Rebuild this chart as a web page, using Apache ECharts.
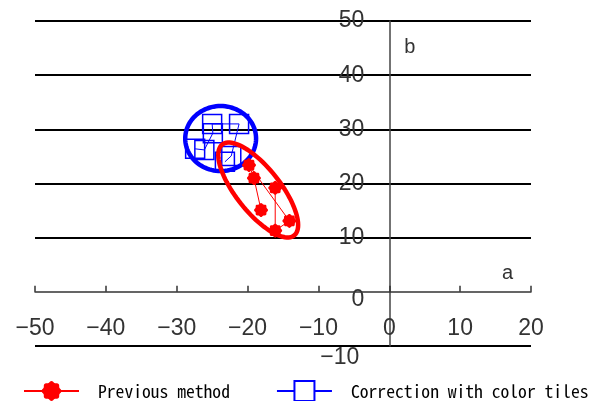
<!DOCTYPE html>
<html><head><meta charset="utf-8">
<script src="https://cdn.jsdelivr.net/npm/echarts@6/dist/echarts.min.js"></script>
<style>html,body{margin:0;padding:0;background:#fff}#c{width:591px;height:401px}</style>
</head><body><div id="c"></div>
<script>
// ---- data ----
const seriesNames = ['Previous method', 'Correction with color tiles'];
const xTicks = [-50, -40, -30, -20, -10, 0, 10, 20];
const yTicks = [-10, 0, 10, 20, 30, 40, 50];
const prevA = [-18.1, -19.1, -19.8, -14.1, -16.1, -16.1];
const prevB = [15.1, 21.0, 23.4, 13.1, 11.3, 19.2];
const tileA = [-27.4, -26.1, -24.9, -25.0, -21.2, -22.3, -23.2];
const tileB = [26.4, 26.2, 29.3, 31.0, 31.0, 25.1, 24.0];
// confidence ellipses: centre and two conjugate semi-axis vectors (data units)
const prevEllipseCenter = [-18.5, 18.8];
const prevEllipseAxis1 = [5.08, -8.39];
const prevEllipseAxis2 = [2.44, 2.53];
const tileEllipseCenter = [-23.8, 28.3];
const tileEllipseAxis1 = [5.0, 0];
const tileEllipseAxis2 = [0, 6.0];

const zip = (a, b) => a.map((v, i) => [v, b[i]]);

function ellipseSeries(center, ax1, ax2, color, z) {
  return {
    type: 'custom', silent: true, z: z,
    data: [center],
    renderItem: function (params, api) {
      const pts = [];
      for (let k = 0; k < 96; k++) {
        const t = k / 96 * Math.PI * 2;
        pts.push(api.coord([
          center[0] + Math.cos(t) * ax1[0] + Math.sin(t) * ax2[0],
          center[1] + Math.cos(t) * ax1[1] + Math.sin(t) * ax2[1]
        ]));
      }
      return { type: 'polygon', shape: { points: pts },
        style: { fill: 'none', stroke: color, lineWidth: 4.5 } };
    }
  };
}

// scalloped marker outline (symbol shape only)
function gearPath() {
  let d = '';
  const n = 72;
  for (let k = 0; k <= n; k++) {
    const t = k / n * Math.PI * 2;
    const r = 10 + 0.8 * Math.cos(8 * t);
    d += (k ? 'L' : 'M') + (r * Math.cos(t)).toFixed(2) + ',' + (r * Math.sin(t)).toFixed(2);
  }
  return 'path://' + d + 'Z';
}

const W = 591, H = 401;
const G = { left: 35, right: 60, top: 21, bottom: 55 };
const xMin = xTicks[0], xMax = xTicks[xTicks.length - 1];
const yMin = yTicks[0], yMax = yTicks[yTicks.length - 1];
const plotW = W - G.left - G.right, plotH = H - G.top - G.bottom;
// move the axes to cross at the origin
const yAxisOffset = -((0 - xMin) / (xMax - xMin) * plotW);
const xAxisOffset = -((0 - yMin) / (yMax - yMin) * plotH);
const minus = s => String(s).replace('-', '\u2212');

const labelFont = 'Liberation Sans, Arial, sans-serif';
const chart = echarts.init(document.getElementById('c'), null, { renderer: 'canvas' });
chart.setOption({
  animation: false,
  backgroundColor: '#fff',
  grid: Object.assign({ outerBoundsMode: 'none', containLabel: false }, G),
  xAxis: {
    type: 'value', min: xMin, max: xMax, interval: 10,
    position: 'bottom', offset: xAxisOffset,
    name: 'a', nameLocation: 'end', nameGap: -18,
    nameTextStyle: { fontSize: 20, color: '#333', fontFamily: labelFont, align: 'right', verticalAlign: 'bottom', padding: [0, 0, 8, 0] },
    axisLine: { onZero: false, lineStyle: { color: '#333', width: 1.5 } },
    axisTick: { show: true, inside: true, length: 6, lineStyle: { color: '#333', width: 1.5 } },
    axisLabel: { margin: 25, fontSize: 23, color: '#333', fontFamily: labelFont, formatter: v => minus(v) },
    splitLine: { show: false }
  },
  yAxis: {
    type: 'value', min: yMin, max: yMax, interval: 10,
    position: 'left', offset: yAxisOffset,
    name: 'b', nameLocation: 'end', nameGap: -16,
    nameTextStyle: { fontSize: 20, color: '#333', fontFamily: labelFont, align: 'left', verticalAlign: 'top', padding: [0, 0, 0, 15] },
    axisLine: { onZero: false, lineStyle: { color: '#444', width: 1.5 } },
    axisTick: { show: false },
    axisLabel: {
      margin: 25, fontSize: 23, color: '#333', fontFamily: labelFont,
      formatter: function (v) {
        if (v === 0) return '{z|0}';
        if (v < 0) return '{m|' + minus(v) + '}';
        return String(v);
      },
      rich: {
        z: { fontSize: 23, color: '#333', fontFamily: labelFont, padding: [16, 0, 0, 0] },
        m: { fontSize: 23, color: '#333', fontFamily: labelFont, padding: [24, 5, 0, 0] }
      }
    },
    splitLine: { show: true, lineStyle: { color: ['#000', 'rgba(0,0,0,0)', '#000', '#000', '#000', '#000', '#000'], width: 2 } }
  },
  legend: {
    left: 23, top: 380, width: 568, padding: 0, itemWidth: 55, itemGap: 46, itemHeight: 25,
    textStyle: { fontFamily: '"Noto Sans Mono CJK KR", "DejaVu Sans Mono", monospace', fontSize: 17.6, color: '#000', padding: [0, 0, 0, 14] },
    lineStyle: { width: 2 },
    data: [
      { name: seriesNames[0], itemStyle: { color: '#ff0000' } },
      { name: seriesNames[1], itemStyle: { color: '#fff', borderColor: '#0000ff', borderWidth: 2 } }
    ]
  },
  series: [
    ellipseSeries(tileEllipseCenter, tileEllipseAxis1, tileEllipseAxis2, '#0000ff', 2),
    {
      name: seriesNames[1], type: 'line', z: 3,
      data: zip(tileA, tileB),
      symbol: 'rect', symbolSize: 19,
      lineStyle: { color: '#0000ff', width: 1 },
      itemStyle: { color: 'rgba(255,255,255,0)', borderColor: '#0000ff', borderWidth: 1.5 }
    },
    ellipseSeries(prevEllipseCenter, prevEllipseAxis1, prevEllipseAxis2, '#ff0000', 4),
    {
      name: seriesNames[0], type: 'line', z: 5,
      data: zip(prevA, prevB),
      symbol: gearPath(), symbolSize: 14,
      lineStyle: { color: '#ff0000', width: 1 },
      itemStyle: { color: '#ff0000' }
    }
  ]
});
</script></body></html>
